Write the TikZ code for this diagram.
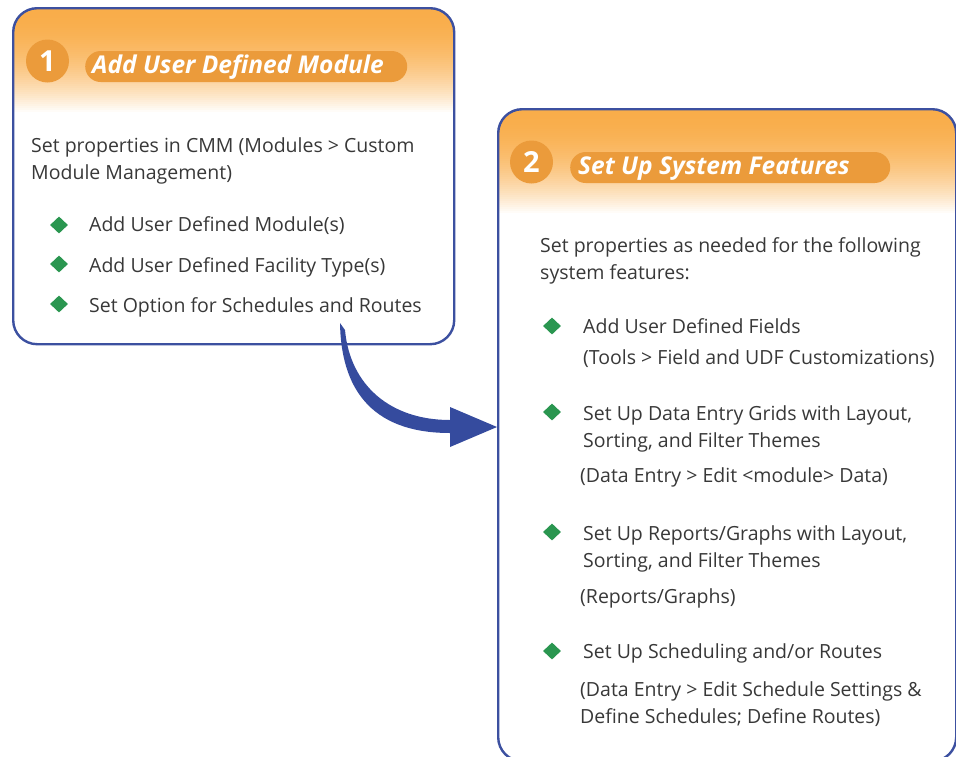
\documentclass[tikz,border=0pt]{standalone}
\usepackage{fontspec}
\setmainfont{Open Sans}
\usetikzlibrary{shapes.geometric}

\definecolor{orTop}{HTML}{F9AD4A}
\definecolor{orDark}{HTML}{EB9B3B}
\definecolor{panelBlue}{HTML}{3C50A0}
\definecolor{arrowBlue}{HTML}{354B9E}
\definecolor{bulletGreen}{HTML}{2A9650}
\definecolor{txtGray}{HTML}{383838}

\begin{document}
\begin{tikzpicture}[
  x=1pt,y=-1pt,
  font=\fontsize{19.5}{27}\selectfont,
  panel/.style={draw=panelBlue,line width=2.4pt,rounded corners=24pt,
                inner sep=0pt,anchor=north west,
                path picture={
                  \foreach \k in {0,...,52}{
                    \pgfmathsetmacro\pct{100*(1-(\k/52)^2)}
                    \fill[orTop!\pct!white,rounded corners=0pt]
                      ([shift={(-6pt,-2*\k*1pt)}]path picture bounding box.north west)
                      rectangle ([shift={(6pt,-2*\k*1pt-2.6pt)}]path picture bounding box.north east);
                  }}},
  badge/.style={circle,fill=orDark,minimum size=43pt,inner sep=0pt,
                text=white,font=\fontsize{29}{29}\selectfont\bfseries},
  pill/.style={fill=orDark,rounded corners=15.5pt,minimum height=31pt,
               inner sep=0pt,anchor=west},
  title/.style={anchor=west,text=white,inner sep=0pt,
                font=\fontsize{24.5}{24.5}\selectfont\bfseries\itshape},
  txt/.style={anchor=base west,align=left,inner sep=0pt,text=txtGray},
  bullet/.style={diamond,fill=bulletGreen,minimum width=18pt,
                 minimum height=17pt,inner sep=0pt},
]
\useasboundingbox (0,0) rectangle (956,756);

% step 1 panel
\node[panel,minimum width=441pt,minimum height=336pt] (box1) at (12,7) {};
\node[badge] (num1) at (47.5,61) {1};
\node[pill,minimum width=322pt] (pill1) at (85,66.5) {};
\node[title] (head1) at ([xshift=7pt,yshift=-1pt]pill1.west) {Add User Defined Module};

% multi-line texts sit on the baseline of their last line
\node[txt] (intro1) at (31,179) {Set properties in CMM (Modules > Custom\\Module Management)};
\node[bullet] (b11) at (59,225) {};
\node[txt] (m11) at (89,231.5) {Add User Defined Module(s)};
\node[bullet] (b12) at (59,264) {};
\node[txt] (m12) at (89,272.5) {Add User Defined Facility Type(s)};
\node[bullet] (b13) at (59,304) {};
\node[txt] (m13) at (89,312.5) {Set Option for Schedules and Routes};

% step 2 panel (runs off the right and bottom edge)
\node[panel,minimum width=458pt,minimum height=652pt] (box2) at (497,108) {};
\node[badge] (num2) at (531.5,162) {2};
\node[pill,minimum width=320pt] (pill2) at (570,167.5) {};
\node[title] (head2) at ([xshift=8pt,yshift=-1pt]pill2.west) {Set Up System Features};

\node[txt] (intro2) at (540,279.5) {Set properties as needed for the following\\system features:};

\node[bullet] (b21) at (552,326) {};
\node[txt] (f1) at (583,333.5) {Add User Defined Fields};
\node[txt] (f1n) at (583,364.5) {(Tools > Field and UDF Customizations)};

\node[bullet] (b22) at (552,412) {};
\node[txt] (f2) at (583,447.5) {Set Up Data Entry Grids with Layout,\\Sorting, and Filter Themes};
\node[txt] (f2n) at (580,482.5) {(Data Entry > Edit <module> Data)};

\node[bullet] (b23) at (552,532) {};
\node[txt] (f3) at (583,567.5) {Set Up Reports/Graphs with Layout,\\Sorting, and Filter Themes};
\node[txt] (f3n) at (580,603.5) {(Reports/Graphs)};

\node[bullet] (b24) at (552,651) {};
\node[txt] (f4) at (583,658.5) {Set Up Scheduling and/or Routes};
\node[txt] (f4n) at (580,723.5) {(Data Entry > Edit Schedule Settings \&\\Define Schedules; Define Routes)};

% the big curved arrow from step 1 into step 2
\coordinate (tail) at (340,323);
\coordinate (tip) at (box2.west |- 0,427);
\fill[arrowBlue] (tail) .. controls (341,385) and (368,433) .. (450,433)
  -- (450,447) -- (tip) -- (450,407) -- (450,420)
  .. controls (390,420) and (350,385) .. (345,330) -- cycle;

\end{tikzpicture}
\end{document}
